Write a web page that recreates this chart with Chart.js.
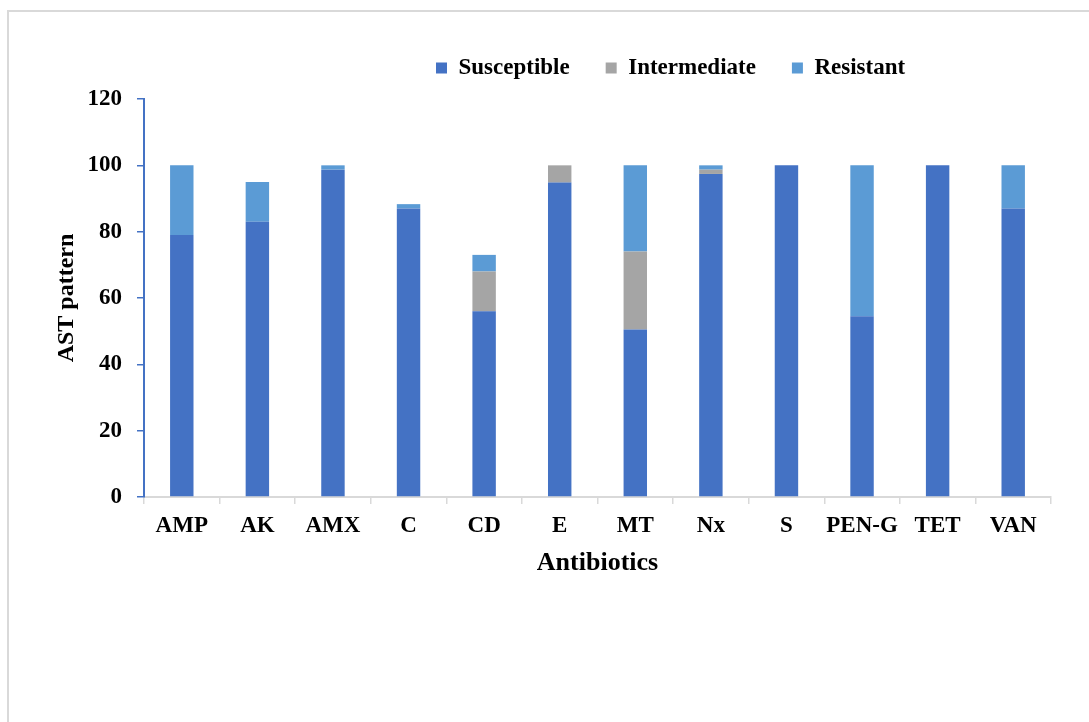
<!DOCTYPE html>
<html>
<head>
<meta charset="utf-8">
<script src="https://cdn.jsdelivr.net/npm/chart.js@4/dist/chart.umd.min.js"></script>
<style>
  html, body { margin: 0; padding: 0; background: #fff; }
  #wrap { position: relative; width: 1089px; height: 722px; overflow: hidden; }
  #frame { position: absolute; left: 7px; top: 10px; right: -10px; bottom: -10px;
           border-left: 2px solid #d9d9d9; border-top: 2px solid #d9d9d9; }
  #c { position: absolute; left: 0; top: 0; }
</style>
</head>
<body>
<div id="wrap">
  <div id="frame"></div>
  <canvas id="c" width="1089" height="722"></canvas>
</div>
<script>
const categories = ['AMP', 'AK', 'AMX', 'C', 'CD', 'E', 'MT', 'Nx', 'S', 'PEN-G', 'TET', 'VAN'];
const susceptible = [79, 83, 98.7, 87, 56, 94.8, 50.5, 97.4, 100, 54.5, 100, 87];
const intermediate = [0, 0, 0, 0, 12, 5.2, 23.5, 1.3, 0, 0, 0, 0];
const resistant = [21, 12, 1.3, 1.3, 5, 0, 26, 1.3, 0, 45.5, 0, 13];
const seriesNames = ['Susceptible', 'Intermediate', 'Resistant'];
const yTickValues = [0, 20, 40, 60, 80, 100, 120];

const FONT = '"Liberation Serif", "Times New Roman", serif';
const LEGEND_PAD = 36;

const legendShift = {
  id: 'legendShift',
  afterLayout(chart) {
    const l = chart.legend;
    if (!l) return;
    const w = l.right - l.left;
    l.left = 436 - LEGEND_PAD;
    l.right = l.left + w + 400;
    l.top = 68 - LEGEND_PAD - 11.5;
  }
};

new Chart(document.getElementById('c'), {
  type: 'bar',
  data: {
    labels: categories,
    datasets: [
      { label: seriesNames[0], data: susceptible, backgroundColor: '#4472C4', borderWidth: 0 },
      { label: seriesNames[1], data: intermediate, backgroundColor: '#A5A5A5', borderWidth: 0 },
      { label: seriesNames[2], data: resistant, backgroundColor: '#5B9BD5', borderWidth: 0 }
    ]
  },
  options: {
    responsive: false,
    animation: false,
    devicePixelRatio: 1,
    layout: { padding: { left: 0, right: 38, top: 30, bottom: 0 } },
    datasets: { bar: { barPercentage: 0.31, categoryPercentage: 1 } },
    plugins: {
      tooltip: { enabled: false },
      legend: {
        position: 'top',
        align: 'start',
        labels: {
          boxWidth: 11,
          boxHeight: 11,
          padding: LEGEND_PAD,
          color: '#000',
          font: { family: FONT, size: 23, weight: 'bold' }
        }
      }
    },
    scales: {
      x: {
        stacked: true,
        afterFit(s) { s.height = 722 - 497; },
        grid: { drawOnChartArea: false, drawTicks: true, tickLength: 7, color: '#d9d9d9', lineWidth: 1.5 },
        border: { color: '#d9d9d9', width: 2 },
        ticks: {
          color: '#000', padding: 8, autoSkip: false, maxRotation: 0, minRotation: 0,
          font: { family: FONT, size: 23, weight: 'bold' }
        },
        title: {
          display: true, text: 'Antibiotics', color: '#000',
          font: { family: FONT, size: 26, weight: 'bold' },
          padding: { top: 0, bottom: 143 }
        }
      },
      y: {
        stacked: true,
        min: 0, max: 120,
        afterFit(s) { s.width = 144; },
        afterBuildTicks(s) { s.ticks = yTickValues.map(v => ({ value: v })); },
        grid: { drawOnChartArea: false, drawTicks: true, tickLength: 7, color: '#4472C4', lineWidth: 1.5 },
        border: { color: '#4472C4', width: 2 },
        ticks: { color: '#000', padding: 15, font: { family: FONT, size: 23, weight: 'bold' } },
        title: {
          display: true, text: 'AST pattern', color: '#000',
          font: { family: FONT, size: 24, weight: 'bold' },
          padding: { top: 52, bottom: 0 }
        }
      }
    }
  },
  plugins: [legendShift]
});
</script>
</body>
</html>
